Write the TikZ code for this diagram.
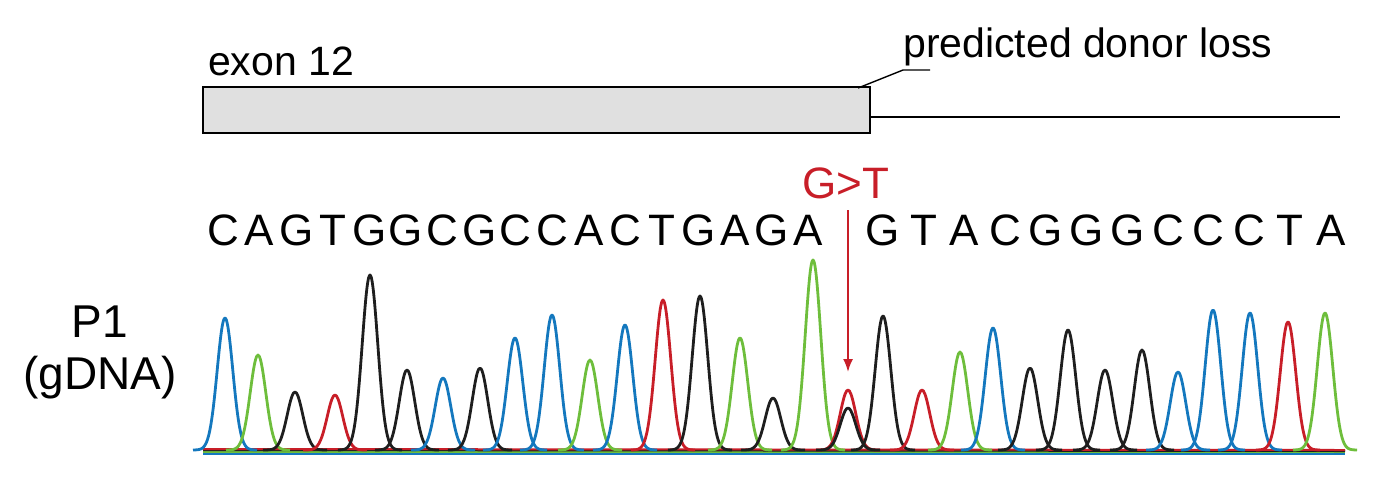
\documentclass[tikz,border=0pt]{standalone}
\usepackage{fontspec}
\usetikzlibrary{arrows.meta}
\setmainfont{Liberation Sans}
\definecolor{tblue}{RGB}{20,120,190}
\definecolor{tgreen}{RGB}{110,190,60}
\definecolor{tred}{RGB}{200,30,40}
\definecolor{tblack}{RGB}{30,30,30}
\tikzset{
    oznaka/.style = {inner sep = 0pt, font = \fontsize{41}{46}\selectfont},
    slovo/.style = {inner sep = 0pt, font = \fontsize{44}{50}\selectfont},
    vrh/.style = {line width = 2.8pt, line join = round}
}
\begin{document}
\begin{tikzpicture}[x = 1pt, y = -1pt]
    \useasboundingbox (0, 0) rectangle (1386, 488);

    % Egzon.
    \node[oznaka, anchor = base west] (exon) at (208, 75) {exon 12};
    \draw[black, line width = 1.2pt, fill = black!12] (203, 87) rectangle (870, 133);
    \coordinate (kraj) at (870, 117);
    \coordinate (desno) at (1340, 117);
    \draw[black, line width = 1.6pt] (kraj) -- (desno);

    % Oznaka gubitka.
    \node[oznaka, anchor = base west] (gubitak) at (903, 57) {predicted donor loss};
    \coordinate (rub) at (858, 88);
    \coordinate (lom) at (903, 70);
    \coordinate (lom2) at (930, 70);
    \draw[black, line width = 1.4pt] (rub) -- (lom) -- (lom2);

    % Mutacija.
    \node[oznaka, font = \fontsize{44}{50}\selectfont, text = tred, anchor = base] (mut) at (846, 198) {G>T};
    \coordinate (strelica) at (848, 372);
    \draw[tred, line width = 1.8pt, -{Latex[length = 13pt, width = 10pt]}] (848, 210) -- (strelica);

    % Slijed.
    \foreach \s [count = \i from 0] in {C,A,G,T,G,G,C,G,C,C,A,C,T,G,A,G,A}
        \node[slovo, anchor = base] (a\i) at (223 + 36.6*\i, 245) {\s};
    \foreach \s [count = \i from 0] in {G,T,A,C,G,G,G,C,C,C,T,A}
        \node[slovo, anchor = base] (b\i) at (883 + 40.7*\i, 245) {\s};

    % Uzorak.
    \node[oznaka, font = \fontsize{46}{50}\selectfont] (p1) at (100, 322) {P1};
    \node[oznaka, font = \fontsize{46}{50}\selectfont] (gdna) at (100, 378) {(gDNA)};

    % Osnovne linije.
    \draw[tgreen, line width = 2pt] (203, 452) -- (1345, 452);
    \draw[tblue, line width = 2pt] (203, 454) -- (1345, 454);
    \draw[tblack, line width = 2pt] (203, 450) -- (1345, 451);
    \draw[tred, line width = 2pt] (203, 449) -- (1345, 450);

    % Vrhovi.
    \foreach \p/\t/\c in {225/318/tblue, 258/355/tgreen, 295/392/tblack, 335/395/tred,
        370/275/tblack, 407/370/tblack, 443/378/tblue, 480/368/tblack, 515/338/tblue,
        552/315/tblue, 590/360/tgreen, 625/325/tblue, 663/300/tred, 700/296/tblack,
        740/338/tgreen, 773/398/tblack, 813/260/tgreen, 848/390/tred, 848/408/tblack,
        883/316/tblack, 922/390/tred, 960/352/tgreen, 993/328/tblue, 1030/368/tblack,
        1068/330/tblack, 1105/370/tblack, 1142/350/tblack, 1178/372/tblue,
        1213/310/tblue, 1250/313/tblue, 1288/322/tred, 1325/313/tgreen}
        \draw[vrh, \c] plot[domain = -32:32, samples = 45, smooth]
            ({\x + \p}, {450 - (450 - \t)*exp(-(\x/11)^2)});
\end{tikzpicture}
\end{document}
